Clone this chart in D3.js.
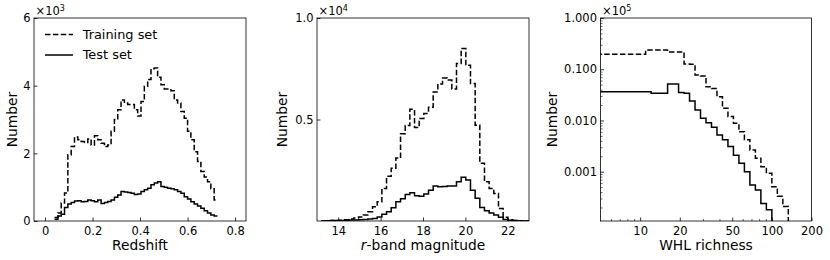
<!DOCTYPE html>
<html>
<head>
<meta charset="utf-8">
<script src="https://cdn.jsdelivr.net/npm/d3@7/dist/d3.min.js"></script>
<style>
  body { margin: 0; background: #fff; }
  svg { font-family: "DejaVu Sans", sans-serif; }
</style>
</head>
<body>
<svg id="chart" width="830" height="260"></svg>
<script>
// ---- data ----
// redshift histogram: 49 bins of 0.014 starting at z = 0.04
var zStart = 0.04, zWidth = 0.014;
var zTrain = [100,240,530,830,1960,2200,2480,2400,2350,2320,
              2420,2250,2520,2400,2300,2200,2250,2650,3000,3290,
              3580,3490,3440,3440,3290,3100,3530,3980,4180,4500,
              4520,4250,4030,3900,3900,3850,3580,3490,3240,3040,
              2650,2400,2050,1760,1460,1300,1160,950,620];
var zTest  = [50,150,200,400,500,550,590,600,570,580,
              620,600,570,620,520,550,580,620,700,770,
              870,860,840,820,780,800,870,920,970,1070,
              1120,1160,1020,1000,970,950,920,870,820,720,
              650,570,500,440,380,300,240,180,150];

// r-band magnitude histogram: 45 bins of 0.22 mag starting at 13.2
var magStart = 13.2, magWidth = 0.22;
var magTrain = [10,10,20,30,40,60,100,150,200,300,
                450,700,950,1600,2200,2600,3100,4300,4700,5500,
                4600,5050,5300,5600,6360,6750,7050,6940,6500,7760,
                8500,7670,6770,4720,2840,1930,1600,1360,620,180,
                60,30,15,10,5];
var magTest  = [10,10,20,20,30,40,50,50,60,80,
                100,120,200,330,460,650,950,1100,1300,1390,
                1250,1220,1330,1520,1720,1690,1700,1720,1720,1930,
                2150,2020,1520,1120,670,510,400,300,180,80,
                40,20,10,5,0];

// WHL richness histogram: log bins, 24 per decade, first bin edge 10^(1 - 8/24)
var whlFirstBin = -8, whlPerDecade = 24;
var whlTrain = [19600,19600,19600,19600,19600,19600,19600,19600,19600,
                23800,23800,23800,23800,21800,21800,21800,
                12700,12500,7740,7400,4570,4200,2900,1730,1190,880,
                600,420,265,183,125,93,51,33,21,3];
var whlTest  = [3650,3650,3650,3650,3650,3650,3650,3650,3650,3650,
                3400,3400,3400,5160,5160,3500,3400,
                2400,1600,1100,900,740,520,420,310,210,146,
                100,55,44,24,18,3];

var zTicks = [0, 0.2, 0.4, 0.6, 0.8];
var zCountTicks = [0, 2000, 4000, 6000];
var magTicks = [14, 16, 18, 20, 22];
var magCountTicks = [5000, 10000];
var whlTicks = [10, 20, 50, 100, 200];
var whlMinorTicks = [6, 7, 8, 9, 30, 40, 60, 70, 80, 90];
var whlCountTicks = [100000, 10000, 1000, 100];

// ---- layout ----
var svg = d3.select("#chart");
var plotTop = 18, plotBottom = 221;

function edgesFor(n, fn) {
  return d3.range(n + 1).map(fn);
}

function drawPanel(p) {
  var g = svg.append("g");
  var clipId = "clip" + p.id;
  svg.append("clipPath").attr("id", clipId).append("rect")
    .attr("x", p.left).attr("y", plotTop)
    .attr("width", p.right - p.left).attr("height", plotBottom - plotTop);

  var x = p.x.range([p.left, p.right]);
  var y = p.y.range([plotBottom, plotTop]);

  var line = d3.line()
    .x(function(d) { return x(d[0]); })
    .y(function(d) { return y(d[1]); })
    .curve(d3.curveStepAfter);

  p.series.forEach(function(s) {
    var pts = s.values.map(function(v, i) { return [s.edges[i], v]; });
    pts.push([s.edges[s.values.length], s.values[s.values.length - 1]]);
    g.append("path")
      .attr("clip-path", "url(#" + clipId + ")")
      .attr("d", line(pts))
      .attr("fill", "none")
      .attr("stroke", "#000")
      .attr("stroke-width", 1.5)
      .attr("stroke-dasharray", s.dash ? "5.5,2.4" : null);
  });

  // axes, ticks pointing in
  var xa = g.append("g").attr("transform", "translate(0," + plotBottom + ")")
    .call(d3.axisBottom(x).tickValues(p.xTicks).tickFormat(p.xFmt)
      .tickSizeInner(-3.5).tickSizeOuter(0).tickPadding(5.5));
  var ya = g.append("g").attr("transform", "translate(" + p.left + ",0)")
    .call(d3.axisLeft(y).tickValues(p.yTicks).tickFormat(p.yFmt)
      .tickSizeInner(-3.5).tickSizeOuter(0).tickPadding(3.5));
  [xa, ya].forEach(function(a) {
    a.select(".domain").remove();
    a.attr("font-family", null).attr("font-size", 11.5);
    a.selectAll("line").attr("stroke-width", 0.8);
    a.selectAll("text").attr("fill", "#000");
  });

  if (p.xMinor) {
    g.append("g").attr("transform", "translate(0," + plotBottom + ")")
      .call(d3.axisBottom(x).tickValues(p.xMinor).tickFormat("")
        .tickSizeInner(-2).tickSizeOuter(0))
      .call(function(a) { a.select(".domain").remove(); a.selectAll("line").attr("stroke-width", 0.6); });
  }
  if (p.yMinor) {
    g.append("g").attr("transform", "translate(" + p.left + ",0)")
      .call(d3.axisLeft(y).tickValues(p.yMinor).tickFormat("")
        .tickSizeInner(-2).tickSizeOuter(0))
      .call(function(a) { a.select(".domain").remove(); a.selectAll("line").attr("stroke-width", 0.6); });
  }

  // frame
  g.append("rect")
    .attr("x", p.left).attr("y", plotTop)
    .attr("width", p.right - p.left).attr("height", plotBottom - plotTop)
    .attr("fill", "none").attr("stroke", "#000").attr("stroke-width", 0.8);

  // labels
  var xl = g.append("text")
    .attr("x", (p.left + p.right) / 2).attr("y", 250)
    .attr("text-anchor", "middle").attr("font-size", 13.8);
  if (p.xItalic) {
    xl.append("tspan").attr("font-style", "italic").text(p.xItalic);
  }
  xl.append("tspan").text(p.xLabel);

  // y label sits left of the tick labels, so its offset grows with their width
  g.append("text")
    .attr("transform", "translate(" + (p.left - p.yLabelGap) + "," + ((plotTop + plotBottom) / 2) + ") rotate(-90)")
    .attr("text-anchor", "middle").attr("font-size", 13.8)
    .text("Number");

  var off = g.append("text").attr("x", p.left + 1.5).attr("y", 15).attr("font-size", 11.5);
  off.append("tspan").text("\u00d710");
  off.append("tspan").attr("font-size", 8).attr("dy", -4.5).text(p.exponent);
}

var zEdges = edgesFor(zTrain.length, function(k) { return zStart + zWidth * k; });
var magEdges = edgesFor(magTrain.length, function(k) { return magStart + magWidth * k; });
var whlEdges = edgesFor(whlTrain.length, function(k) { return Math.pow(10, 1 + (whlFirstBin + k) / whlPerDecade); });

drawPanel({
  id: 1, left: 34, right: 246, yLabelGap: 17,
  x: d3.scaleLinear().domain([-0.0465, 0.846]),
  y: d3.scaleLinear().domain([0, 6000]),
  series: [{values: zTrain, edges: zEdges, dash: true}, {values: zTest, edges: zEdges}],
  xTicks: zTicks, xFmt: function(v) { return v === 0 ? "0" : v.toFixed(1); },
  yTicks: zCountTicks, yFmt: function(v) { return String(v / 1000); },
  xLabel: "Redshift", exponent: "3"
});

drawPanel({
  id: 2, left: 317, right: 529, yLabelGap: 30,
  x: d3.scaleLinear().domain([13, 23]),
  y: d3.scaleLinear().domain([0, 10000]),
  series: [{values: magTrain, edges: magEdges, dash: true}, {values: magTest, edges: magEdges}],
  xTicks: magTicks, xFmt: function(v) { return String(v); },
  yTicks: magCountTicks, yFmt: function(v) { return (v / 10000).toFixed(1); },
  xItalic: "r", xLabel: "-band magnitude", exponent: "4"
});

var whlYMinor = [];
[10, 100, 1000, 10000].forEach(function(dec) {
  d3.range(2, 10).forEach(function(m) { if (m * dec > 10.9) whlYMinor.push(m * dec); });
});

drawPanel({
  id: 3, left: 600.5, right: 811.5, yLabelGap: 43.5,
  x: d3.scaleLog().domain([5, 200]),
  y: d3.scaleLog().domain([10.9, 100000]),
  series: [{values: whlTrain, edges: whlEdges, dash: true}, {values: whlTest, edges: whlEdges}],
  xTicks: whlTicks, xFmt: function(v) { return String(v); }, xMinor: whlMinorTicks,
  yTicks: whlCountTicks, yFmt: function(v) { return (v / 100000).toFixed(3); }, yMinor: whlYMinor,
  xLabel: "WHL richness", exponent: "5"
});

// legend (first panel)
var legend = svg.append("g").attr("font-size", 12.9);
[{label: "Training set", dash: true, y: 34.5}, {label: "Test set", dash: false, y: 55}].forEach(function(d) {
  legend.append("line")
    .attr("x1", 45).attr("x2", 73).attr("y1", d.y).attr("y2", d.y)
    .attr("stroke", "#000").attr("stroke-width", 1.5)
    .attr("stroke-dasharray", d.dash ? "5.5,2.4" : null);
  legend.append("text").attr("x", 82.7).attr("y", d.y + 4.4).text(d.label);
});
</script>
</body>
</html>
